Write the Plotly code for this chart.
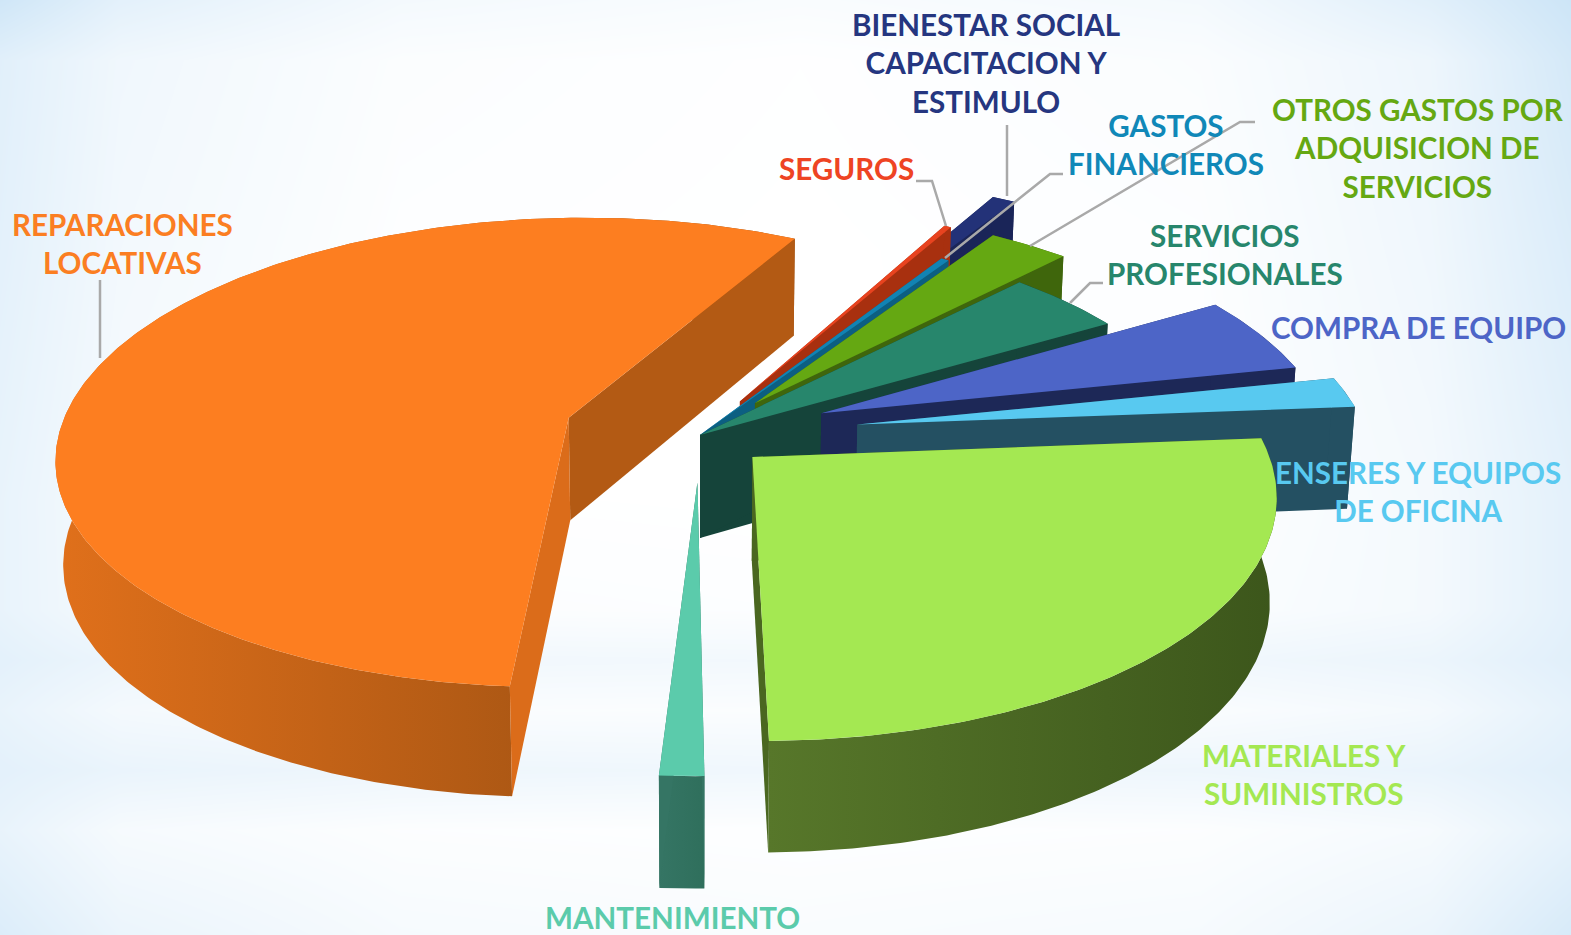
import numpy as np
import plotly.graph_objects as go

# ---- data (share of total, %) ----
categories = ["REPARACIONES LOCATIVAS", "SEGUROS", "BIENESTAR SOCIAL CAPACITACION Y ESTIMULO",
              "GASTOS FINANCIEROS", "OTROS GASTOS POR ADQUISICION DE SERVICIOS",
              "SERVICIOS PROFESIONALES", "COMPRA DE EQUIPO", "ENSERES Y EQUIPOS DE OFICINA",
              "MATERIALES Y SUMINISTROS", "MANTENIMIENTO"]
values = [56.86, 0.25, 0.86, 0.28, 2.97, 4.28, 5.22, 2.06, 26.06, 1.17]

# ---- styling (one entry per category) ----
pull = [138, 85, 190, 0, 90, 0, 132, 160, 70, 100]
top_colors = ["#FD7E20", "#E8431F", "#233278", "#1283B3", "#65A812", "#27866C", "#4D65C7", "#58C9F0", "#A4E852", "#5BCBAB"]
wall_left = ["#E0701B", "#A8300F", "#1A2558", "#0C5F82", "#3F660C", "#15443A", "#1D2857", "#245062", "#57772A", "#357564"]
wall_right = ["#8F4A10", "#A8300F", "#1A2558", "#0C5F82", "#3F660C", "#15443A", "#1D2857", "#245062", "#3C561B", "#2F6F5C"]
face_start = ["#B35A14", "#A8300F", "#1A2558", "#0C5F82", "#3F660C", "#15443A", "#1D2857", "#245062", "#4A6720", "#357564"]
face_end = ["#DB6C1A", "#A8300F", "#1A2558", "#0C5F82", "#3F660C", "#15443A", "#1D2857", "#245062", "#4A6720", "#357564"]
draw_order = [2, 1, 3, 4, 5, 6, 7, 0, 9, 8]

start_angle = 61.8      # degrees, slices run clockwise from here after the first
radius = 510.0
depth = 103.0
origin_x, origin_y = 700.0, 435.0
squash, persp = 0.46, 0.000291
base_shrink = 0.988     # the lower rim converges slightly towards the chart's centre

# background wash (blue intensity)
bg_x = [0, 120, 400, 800, 1200, 1430, 1571]
bg_y = [0, 60, 250, 500, 610, 660, 710, 770, 830, 935]
bg_z = [[0.95, 0.55, 0.22, 0.12, 0.22, 0.60, 1.00],
        [0.60, 0.30, 0.08, 0.02, 0.10, 0.35, 0.85],
        [0.55, 0.25, 0.04, 0.00, 0.05, 0.30, 0.70],
        [0.45, 0.18, 0.02, 0.00, 0.03, 0.22, 0.55],
        [0.45, 0.20, 0.08, 0.05, 0.08, 0.22, 0.55],
        [0.55, 0.38, 0.28, 0.25, 0.28, 0.38, 0.60],
        [0.45, 0.22, 0.10, 0.08, 0.10, 0.22, 0.50],
        [0.55, 0.42, 0.34, 0.30, 0.34, 0.42, 0.60],
        [0.45, 0.18, 0.06, 0.03, 0.06, 0.18, 0.50],
        [0.70, 0.40, 0.18, 0.12, 0.18, 0.40, 0.80]]

labels = [("REPARACIONES<br>LOCATIVAS", 122, 243, "#FB7E22"),
          ("SEGUROS", 846, 168, "#EE4423"),
          ("BIENESTAR SOCIAL<br>CAPACITACION Y<br>ESTIMULO", 986, 63, "#253680"),
          ("GASTOS<br>FINANCIEROS", 1166, 144, "#1088B8"),
          ("OTROS GASTOS POR<br>ADQUISICION DE<br>SERVICIOS", 1418, 148, "#65A812"),
          ("SERVICIOS<br>PROFESIONALES", 1225, 254, "#27866C"),
          ("COMPRA DE EQUIPO", 1418, 327, "#4D65C7"),
          ("ENSERES Y EQUIPOS<br>DE OFICINA", 1418, 491, "#58C9F0"),
          ("MATERIALES Y<br>SUMINISTROS", 1304, 774, "#A4E852"),
          ("MANTENIMIENTO", 672, 917, "#5BCBAB")]
leaders = ["M916,181 L932,181 L946,226",
           "M1007,125 L1007,196",
           "M1063,174 L1050,174 L945,258",
           "M1255,122 L1240,122 L1030,246",
           "M1103,283 L1090,283 L1070,303",
           "M100,280 L100,358"]


def project(X, Y, bottom=False):
    p = 1.0 / (1.0 + np.asarray(Y) * persp)
    sx = origin_x + np.asarray(X) * p
    sy = origin_y - squash * np.asarray(Y) * p
    if bottom:
        sx = origin_x + (sx - origin_x) * base_shrink
        sy = sy + depth * p ** 0.45
    return sx, sy


def poly(fig, xs, ys, color, right=None):
    kw = dict(x=list(xs) + [xs[0]], y=list(ys) + [ys[0]], mode="lines", fill="toself",
              line=dict(width=0), hoverinfo="skip", showlegend=False)
    if right is None:
        kw["fillcolor"] = color
    else:
        kw["fillgradient"] = dict(type="horizontal", colorscale=[[0, color], [1, right]])
    fig.add_trace(go.Scatter(**kw))


fig = go.Figure()
fig.add_trace(go.Heatmap(x=bg_x, y=bg_y, z=bg_z, zsmooth="best", showscale=False, hoverinfo="skip",
                         zmin=0, zmax=1, colorscale=[[0, "#FFFFFF"], [1, "#CDE5F7"]]))

# slice geometry comes from the values: angle spans are proportional to each share
total = sum(values)
spans = [v / total * 360.0 for v in values]
# REPARACIONES runs counter-clockwise from start_angle, the rest clockwise
bounds = [(start_angle, start_angle + spans[0])]
a = start_angle
for s in spans[1:]:
    bounds.append((a - s, a))
    a -= s

for i in draw_order:
    lo, hi = np.radians(bounds[i][0]), np.radians(bounds[i][1])
    mid = (lo + hi) / 2
    cx, cy = pull[i] * np.cos(mid), pull[i] * np.sin(mid)
    th = np.linspace(lo, hi, max(6, int(np.degrees(hi - lo) * 1.5)))
    ax, ay = cx + radius * np.cos(th), cy + radius * np.sin(th)
    tx, ty = project(ax, ay)
    bx, by = project(ax, ay, True)
    ctx, cty = project(cx, cy)
    cbx, cby = project(cx, cy, True)
    # outer rim wall
    poly(fig, np.r_[tx, bx[::-1]], np.r_[ty, by[::-1]], wall_left[i], wall_right[i])
    # radial cut faces
    poly(fig, [ctx, tx[0], bx[0], cbx], [cty, ty[0], by[0], cby], face_end[i] if i != 0 else face_start[i])
    poly(fig, [ctx, tx[-1], bx[-1], cbx], [cty, ty[-1], by[-1], cby], face_start[i] if i != 0 else face_end[i])
    # top
    poly(fig, np.r_[ctx, tx], np.r_[cty, ty], top_colors[i])

shapes = [dict(type="path", path=p, line=dict(color="#A9A9A9", width=2.5), xref="x", yref="y") for p in leaders]
annotations = [dict(x=x, y=y, text=t, showarrow=False, xref="x", yref="y", align="center",
                    font=dict(family="Lato", size=29.6, color=c, weight=700))
               for t, x, y, c in labels]

fig.update_layout(width=1571, height=935, margin=dict(l=0, r=0, t=0, b=0), showlegend=False,
                  paper_bgcolor="white", plot_bgcolor="white",
                  xaxis=dict(range=[0, 1571], visible=False, fixedrange=True),
                  yaxis=dict(range=[935, 0], visible=False, fixedrange=True),
                  shapes=shapes, annotations=annotations)
fig.write_html("out.html", post_script="document.body.style.margin='0';", config={"displayModeBar": False})
